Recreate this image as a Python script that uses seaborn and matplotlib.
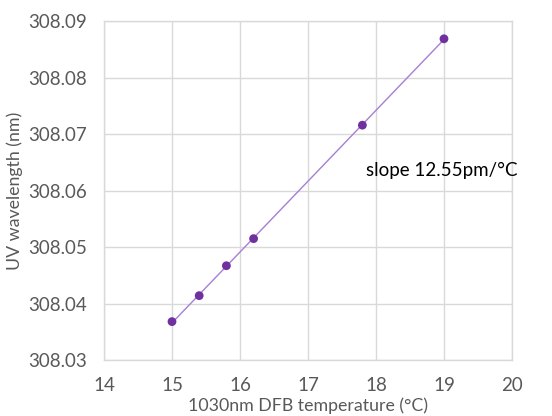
import matplotlib
matplotlib.use("Agg")
import matplotlib.pyplot as plt
import seaborn as sns
import numpy as np
import pandas as pd

temperature = [15.0, 15.4, 15.8, 16.2, 17.8, 19.0]
wavelength = [308.0368, 308.0414, 308.0467, 308.0515, 308.0716, 308.0869]
x_ticks = [14, 15, 16, 17, 18, 19, 20]
y_ticks = [308.03, 308.04, 308.05, 308.06, 308.07, 308.08, 308.09]
annotation = "slope 12.55pm/°C"

sns.set_theme(style="white")
plt.rcParams['font.family'] = ['Lato', 'DejaVu Sans']

df = pd.DataFrame({"T": temperature, "W": wavelength})

fig = plt.figure(figsize=(5.52, 4.16), dpi=100)
ax = fig.add_axes([0.1884, 0.1346, 0.9275 - 0.1884, 0.9488 - 0.1346])

sns.regplot(data=df, x="T", y="W", ax=ax, scatter=False, ci=None, truncate=True,
            line_kws=dict(color="#A77ED6", lw=1.0))
sns.scatterplot(data=df, x="T", y="W", ax=ax, color="#7030A0", s=40,
                edgecolor="none", zorder=3)

ax.set_xlim(14, 20)
ax.set_ylim(308.03, 308.09)
ax.set_xticks(x_ticks)
ax.set_yticks(y_ticks)
ax.set_xticklabels([str(v) for v in x_ticks])
ax.set_yticklabels([f"{v:.2f}" for v in y_ticks])
ax.grid(True, color="#D9D9D9", lw=1.0)
for s in ax.spines.values():
    s.set_color("#D9D9D9")
    s.set_linewidth(1.0)
ax.tick_params(axis="x", colors="#595959", labelsize=13.5, length=0, pad=12)
ax.tick_params(axis="y", colors="#595959", labelsize=13.5, length=0, pad=12)
ax.set_xlabel("1030nm DFB temperature (°C)", color="#595959", fontsize=12.8, labelpad=3)
ax.set_ylabel("UV wavelength (nm)", color="#595959", fontsize=12.8, labelpad=4)
ax.text(17.85, 308.0636, annotation, fontsize=13.5, color="black", va="center")

fig.savefig("out.png", dpi=100)
